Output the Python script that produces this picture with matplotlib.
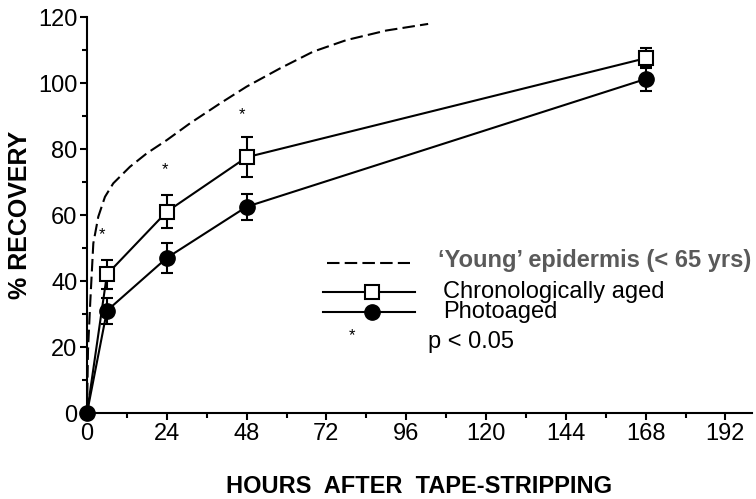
import matplotlib.pyplot as plt
from matplotlib.lines import Line2D

plt.rcParams['font.family'] = ['Liberation Sans', 'DejaVu Sans']

# Data
jam = [0, 6, 24, 48, 168]
kronologis = [0, 42, 61, 77.5, 107.5]
kronologis_err = [0, 4.5, 5, 6, 3]
foto = [0, 31, 47, 62.5, 101.2]
foto_err = [0, 4, 4.5, 4, 3.5]

jam_muda = [0, 0.3, 1.0, 1.9, 3.4, 5.4, 7.9, 12.9, 18, 24, 31, 40, 48, 58, 68, 78, 90, 102.6]
muda = [0, 19, 34, 51.4, 59.5, 65.5, 69.6, 74.6, 78.7, 82.7, 87.8, 93.8, 98.9, 104.4, 109.5, 113, 115.9, 117.9]

bintang_x = [4.4, 23.5, 46.7]
bintang_y = [54.2, 73.8, 90.3]

W, H = 756, 499
fig = plt.figure(figsize=(W / 100, H / 100), dpi=100)
ax = fig.add_axes([87 / W, 1 - 413 / H, (752 - 87) / W, (413 - 17) / H])


def px(x, y):
    return x / W, 1 - y / H


# Kurva epidermis muda (putus-putus)
ax.plot(jam_muda, muda, color='black', lw=1.5, dashes=(6, 2.5), clip_on=False)

# Seri dengan error bar
ax.errorbar(jam, kronologis, yerr=kronologis_err, color='black', lw=1.5,
            marker='s', ms=9.5, mfc='white', mec='black', mew=1.5, markevery=[1, 2, 3, 4],
            capsize=4, capthick=1.5, elinewidth=1.5, clip_on=False, zorder=3)
ax.errorbar(jam, foto, yerr=foto_err, color='black', lw=1.5,
            marker='o', ms=11, mfc='black', mec='black',
            capsize=4, capthick=1.5, elinewidth=1.5, clip_on=False, zorder=4)

for bx, by in zip(bintang_x, bintang_y):
    ax.text(bx, by, '*', ha='center', va='center', fontsize=12)

ax.set_xlim(0, 200)
ax.set_ylim(0, 120)
ax.set_xticks(range(0, 193, 24))
ax.set_xticks(range(12, 200, 24), minor=True)
ax.set_yticks(range(0, 121, 20))
ax.set_yticks(range(10, 120, 20), minor=True)
for s in ['top', 'right']:
    ax.spines[s].set_visible(False)
for s in ['left', 'bottom']:
    ax.spines[s].set_linewidth(1.5)
ax.tick_params(which='major', length=5, width=1.5, labelsize=17, pad=2)
ax.tick_params(which='minor', length=3.5, width=1.5)

ax.set_xlabel('HOURS  AFTER  TAPE-STRIPPING', fontsize=17, fontweight='bold', labelpad=22)
ax.set_ylabel('% RECOVERY', fontsize=18, fontweight='bold', labelpad=4)

# Legenda
fig.add_artist(Line2D([327 / W, 410 / W], [1 - 263 / H] * 2, color='black', lw=1.5, dashes=(6, 2.5)))
fig.text(*px(438, 261), '\u2018Young\u2019 epidermis (< 65 yrs)', fontsize=17,
         fontweight='bold', color='#5a5a5a', va='center')
fig.add_artist(Line2D([323 / W, 415 / W], [1 - 292 / H] * 2, color='black', lw=1.5))
fig.add_artist(Line2D([372 / W], [1 - 292 / H], marker='s', ms=9.5, mfc='white', mec='black', mew=1.5))
fig.text(*px(443, 292), 'Chronologically aged', fontsize=17, va='center')
fig.add_artist(Line2D([323 / W, 415 / W], [1 - 312 / H] * 2, color='black', lw=1.5))
fig.add_artist(Line2D([372 / W], [1 - 312 / H], marker='o', ms=11, mfc='black', mec='black'))
fig.text(*px(443, 312), 'Photoaged', fontsize=17, va='center')
fig.text(*px(352, 336), '*', fontsize=12, ha='center', va='center')
fig.text(*px(428, 342), 'p < 0.05', fontsize=17, va='center')

fig.savefig('out.png', dpi=100)
